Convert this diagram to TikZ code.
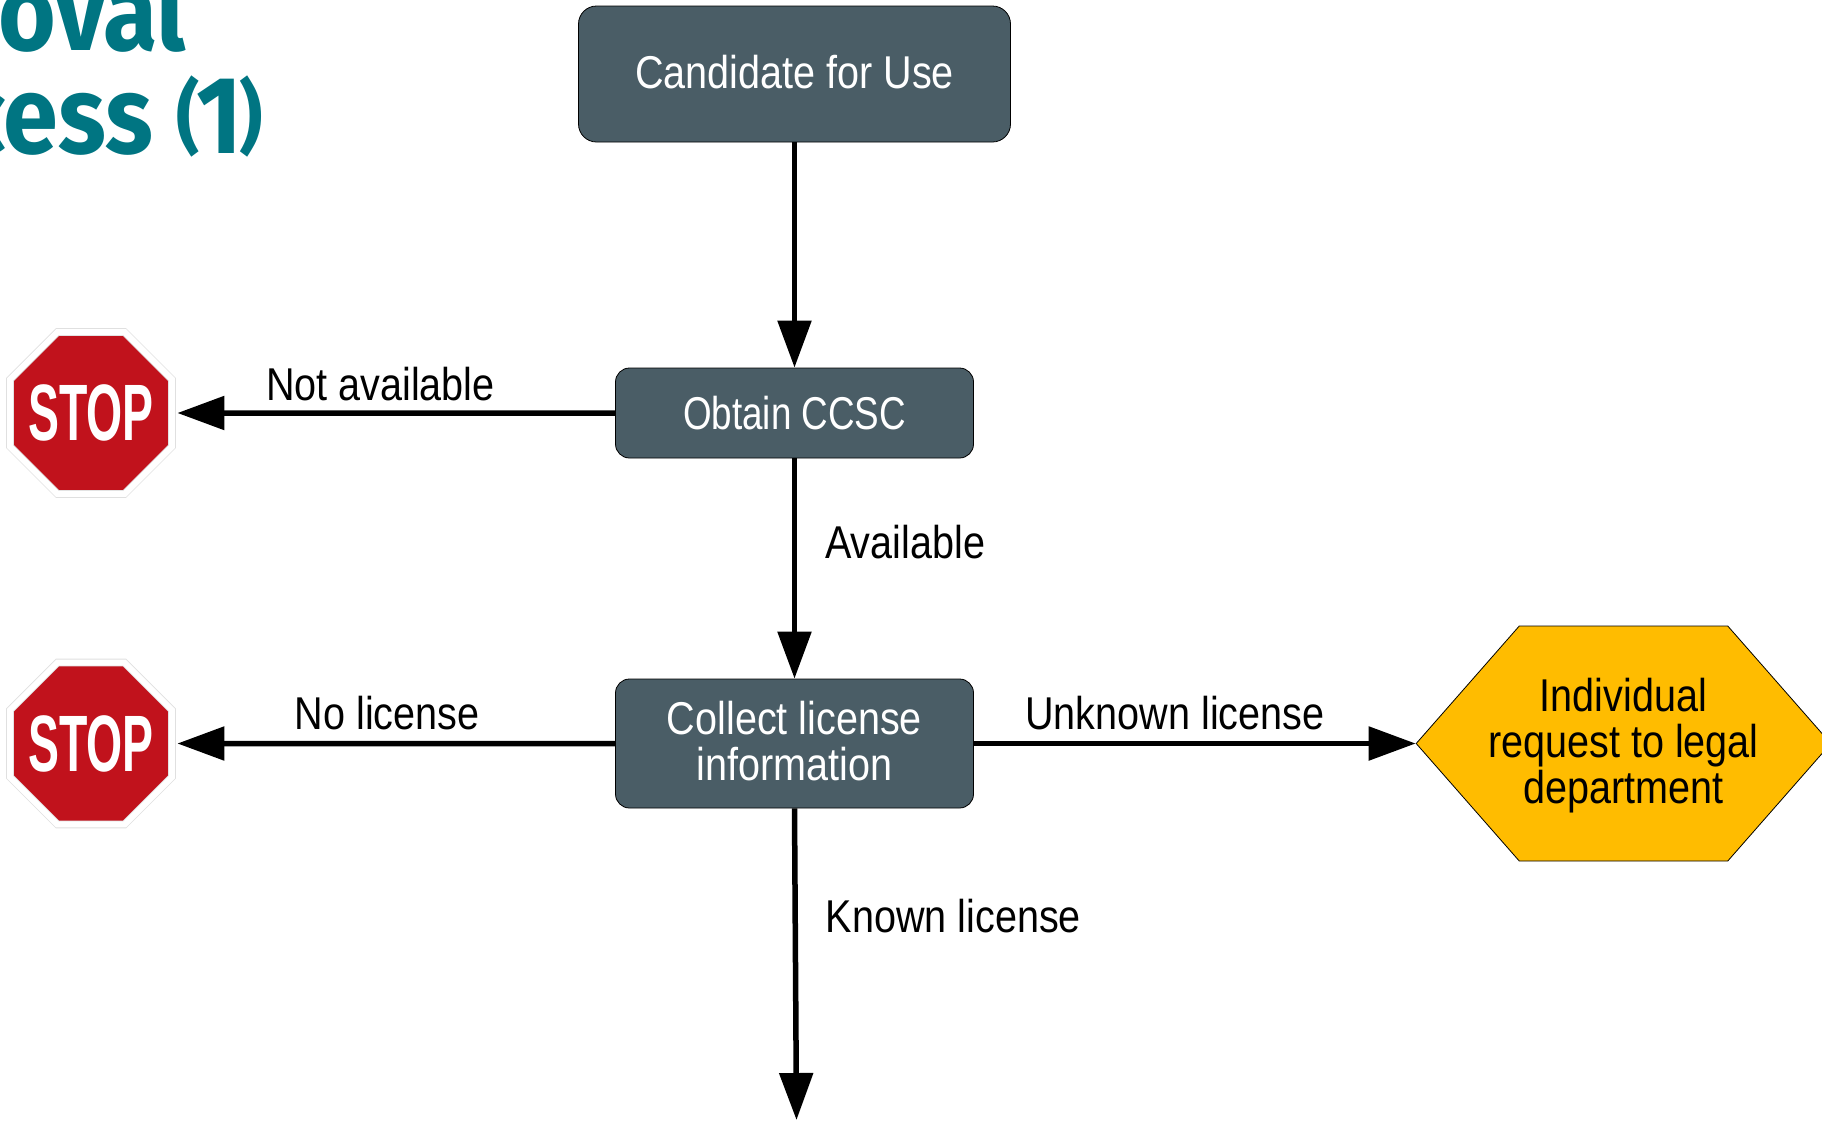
\documentclass[tikz,border=0pt]{standalone}
\usepackage{fontspec}
\setmainfont[FakeStretch=0.86]{Liberation Sans}
\newfontfamily\narrowfont[FakeStretch=0.8]{Liberation Sans}
\newfontfamily\stopfont[FakeStretch=0.58]{Liberation Sans}
\newfontfamily\titlefont[FakeStretch=0.9]{Fira Sans}
\usetikzlibrary{arrows.meta, shapes.geometric, shapes.symbols, positioning}
\definecolor{slatebox}{HTML}{4A5D66}
\definecolor{stopred}{HTML}{C1121C}
\definecolor{amberbox}{HTML}{FFBC00}
\definecolor{titleteal}{HTML}{007582}
\newcommand{\smallparen}[1]{\raisebox{9pt}{\fontsize{80}{80}\selectfont #1}}

\begin{document}
\begin{tikzpicture}[x=1pt, y=1pt, >={Triangle[length=47pt, width=33pt]}, line width=5.5pt,
    stepbox/.style={rectangle, rounded corners=14pt, draw=black, line width=0.8pt, fill=slatebox, text=white, align=center, inner sep=0pt, minimum width=358pt, font=\fontsize{46}{46}\selectfont},
    stopsign/.style={regular polygon, regular polygon sides=8, minimum size=175.3pt, inner sep=-20pt, fill=stopred, draw=black!12, line width=0.8pt, double=white, double distance=6pt, text=white, font=\stopfont\bfseries\fontsize{80}{80}\selectfont},
    legalbox/.style={signal, signal to=west and east, signal pointer angle=97.5, draw=black, line width=0.8pt, fill=amberbox, align=center, inner ysep=0pt, inner xsep=-31pt, minimum height=235pt, text depth=5pt, font=\fontsize{46}{46}\selectfont},
    edgelabel/.style={font=\fontsize{46}{46}\selectfont, inner sep=0pt},
    titletext/.style={text=titleteal, inner sep=0pt, font=\titlefont\bfseries\fontsize{110}{110}\selectfont}]
        \useasboundingbox (0,0) rectangle (1822,-1120);

        \node[titletext, anchor=base east] (title1) at (189,-50) {roval};
        \node[titletext, anchor=base east] (title2) at (266,-153) {cess \smallparen{(}\kern-3pt 1\kern-3pt\smallparen{)}};

        \node[stepbox, minimum width=432pt, minimum height=136pt, rounded corners=18pt, text depth=5pt] (candidate) at (794.5,-74) {Candidate for Use};
        \node[stepbox, minimum height=90pt, below of=candidate, node distance=339pt, font=\narrowfont\fontsize{46}{46}\selectfont] (ccsc) {Obtain CCSC};
        \node[stepbox, minimum height=129pt, below of=ccsc, node distance=330.5pt, text depth=5pt] (collect) {Collect license\\information};

        \node[stopsign, left of=ccsc, node distance=703.5pt] (stop1) {STOP};
        \node[stopsign, left of=collect, node distance=703.5pt] (stop2) {STOP};

        \node[legalbox, right of=collect, node distance=829pt] (legal) {Individual\\request to legal\\department};

        \coordinate[below of=collect, xshift=2pt, node distance=376.5pt] (bottom);

        %Draw vertical arrows
        \draw[->] (candidate.south) -- (ccsc.north);
        \draw[->] (ccsc.south) -- node[edgelabel, right, pos=0.38, xshift=28pt] {Available} (collect.north);
        \draw[->] (collect.south) -- node[edgelabel, right, pos=0.345, xshift=28pt] {Known license} (bottom);

        % Draw horizontal arrows
        \draw[->, shorten >=5pt] (ccsc.west) -- node[edgelabel, above, pos=0.53, yshift=9pt] {Not available} (stop1.east);
        \draw[->, shorten >=5pt] (collect.west) -- node[edgelabel, above, pos=0.515, yshift=11pt] {No license} (stop2.east);
        \draw[->] (collect.east) -- node[edgelabel, above, pos=0.455, yshift=11pt] {Unknown license} (legal.west);

    \end{tikzpicture}
\end{document}
